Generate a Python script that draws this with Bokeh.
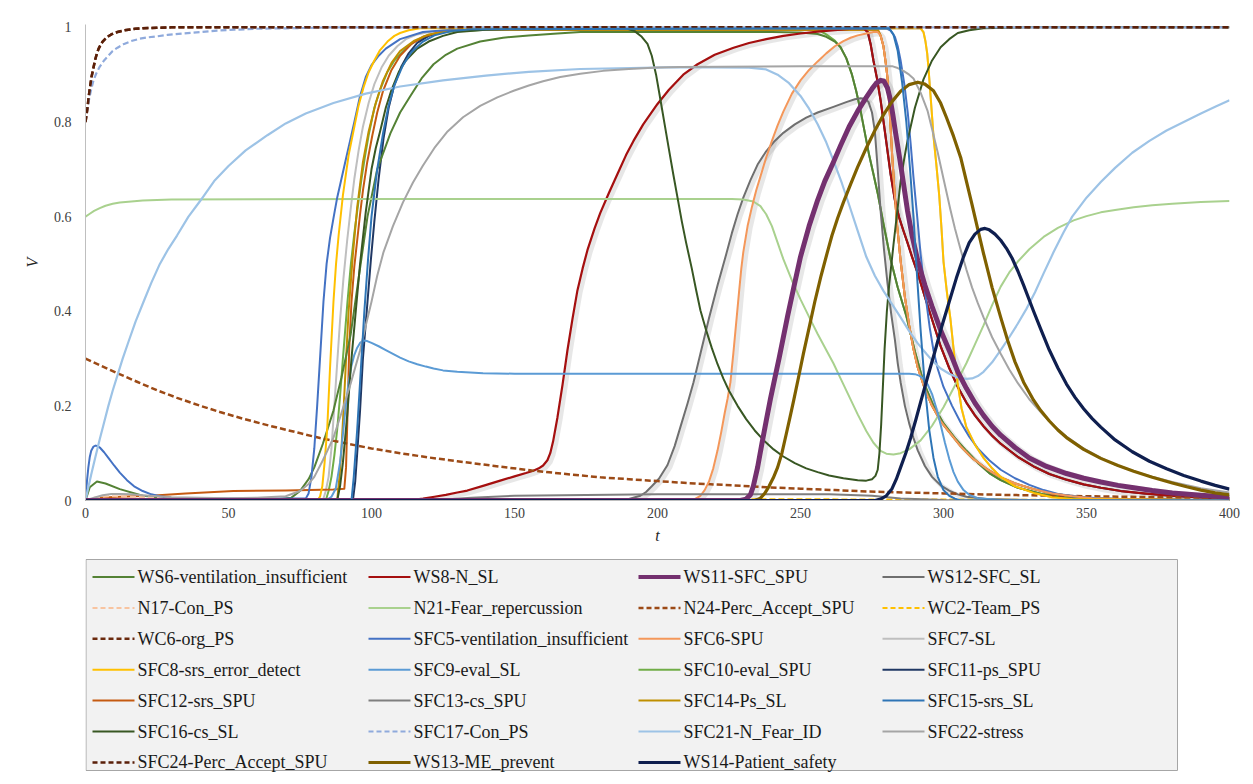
from bokeh.plotting import figure
from bokeh.models import Range1d, FixedTicker
from bokeh.layouts import column
from bokeh.embed import file_html
from bokeh.resources import INLINE
from bokeh.core.properties import value

# ---------------- data (t, V) ----------------
X_TICKS = [0, 50, 100, 150, 200, 250, 300, 350, 400]
Y_TICKS = [0, 0.2, 0.4, 0.6, 0.8, 1]
Y_TICK_LABELS = ["0", "0.2", "0.4", "0.6", "0.8", "1"]

WS6_pts = [(0,0),(1.5,0.028),(4,0.04),(7,0.036),(12,0.024),(20,0.01),(30,0.004),(50,0.002),(68,0.003),(72,0.006),(75,0.02),(78,0.045),(80,0.07),(83,0.12),(86.7,0.19),(89.5,0.26),(92.7,0.35),(95.5,0.47),(98.6,0.6),(102,0.7),(106.6,0.776),(110,0.82),(113.6,0.855),(117.5,0.892),(121.7,0.922),(126,0.942),(130,0.955),(138,0.97),(146,0.978),(155,0.983),(165,0.987),(173,0.99),(200,0.99),(240,0.99),(250,0.989),(256,0.986),(259,0.98),(262,0.97),(264,0.958),(266,0.935),(268,0.9),(269.5,0.865),(271,0.824),(272.5,0.777),(274,0.73),(275.5,0.69),(277,0.649),(279,0.585),(281.5,0.51),(284,0.45),(287,0.39),(290,0.315),(293,0.25),(296.5,0.2),(300,0.163),(304,0.132),(308,0.105),(312,0.08),(316,0.058),(320,0.043),(326,0.027),(335,0.013),(342,0.007),(350,0.004),(400,0)]
WS8_pts = [(0,0),(110,0),(114,0.001),(118,0.004),(122,0.008),(126,0.012),(130,0.017),(133.5,0.021),(139,0.031),(145,0.042),(150,0.051),(154,0.058),(156.6,0.063),(158.5,0.068),(160,0.074),(161.5,0.085),(162.5,0.1),(163.5,0.125),(165,0.175),(166.8,0.245),(168.5,0.317),(170.3,0.385),(172,0.444),(173.8,0.49),(175.5,0.529),(178,0.575),(180,0.608),(183,0.65),(186,0.69),(189,0.73),(191.6,0.76),(195,0.795),(200,0.838),(204,0.868),(209,0.9),(214,0.922),(220,0.942),(226.6,0.957),(232,0.967),(238,0.975),(244,0.982),(250,0.987),(256,0.991),(262,0.994),(268,0.997),(272,0.998),(273.5,0.99),(274.5,0.965),(275.5,0.93),(276.8,0.89),(278,0.846),(279.5,0.78),(281.5,0.69),(283,0.635),(284.5,0.598),(286,0.57),(287.4,0.545),(289,0.515),(291,0.48),(293.5,0.43),(296.5,0.373),(299,0.326),(302,0.28),(305,0.24),(308,0.207),(311,0.18),(314,0.157),(317,0.137),(320,0.12),(326,0.092),(331.5,0.072),(337,0.056),(343,0.044),(349,0.034),(355,0.027),(362,0.02),(370,0.015),(378,0.011),(385,0.008),(392,0.006),(400,0.005)]
WS11_pts = [(0,0),(229,0),(231,0.003),(232.5,0.012),(233.5,0.03),(235,0.07),(236.5,0.12),(238,0.168),(239.5,0.215),(241,0.258),(242.5,0.3),(244,0.345),(245.5,0.39),(248,0.46),(250,0.515),(253,0.58),(256,0.635),(258.5,0.675),(261.5,0.715),(264,0.75),(267,0.79),(270,0.823),(273,0.852),(275,0.87),(276.5,0.882),(278,0.888),(279.2,0.886),(280.4,0.872),(281.3,0.85),(282.3,0.815),(283.3,0.775),(284.5,0.73),(286,0.67),(287.4,0.613),(289,0.56),(291,0.507),(293.5,0.455),(296,0.41),(299,0.36),(302.5,0.31),(305,0.272),(308,0.237),(311,0.206),(314,0.18),(317,0.157),(320,0.138),(325,0.112),(330,0.09),(336,0.072),(343,0.057),(349,0.047),(355,0.039),(361,0.032),(366.5,0.027),(373,0.021),(380,0.016),(390,0.011),(400,0.007)]
WS12_pts = [(0,0),(185,0),(190,0.003),(194,0.01),(196,0.018),(198,0.03),(200.5,0.046),(203.5,0.075),(206,0.115),(208,0.155),(210.5,0.205),(212.6,0.25),(215,0.31),(218,0.385),(221,0.455),(224,0.52),(226,0.565),(228,0.605),(230,0.64),(232.5,0.677),(235,0.71),(238,0.738),(241,0.76),(244,0.777),(248,0.795),(252,0.809),(256,0.82),(261.5,0.832),(266,0.842),(269,0.848),(271,0.85),(272.5,0.849),(273.8,0.842),(275,0.82),(276,0.78),(277,0.7),(278,0.613),(279.2,0.53),(280.4,0.46),(281.7,0.395),(283,0.34),(284,0.29),(285,0.25),(286.5,0.2),(288,0.163),(289.5,0.132),(291,0.106),(293.5,0.073),(296,0.05),(299,0.032),(302,0.021),(305,0.013),(308,0.008),(315,0.003),(330,0.001),(400,0)]
N17_pts = [(0,0),(3,0.006),(8,0.009),(15,0.008),(25,0.006),(40,0.004),(80,0.002),(150,0.001),(400,0)]
N21_pts = [(0,0.6),(1.5,0.606),(3,0.612),(5,0.618),(7,0.623),(9.5,0.627),(12,0.63),(16,0.632),(20,0.634),(30,0.636),(100,0.637),(226,0.637),(230,0.636),(233.5,0.632),(236,0.622),(238,0.605),(240,0.58),(242,0.545),(244,0.51),(247,0.465),(250,0.425),(253,0.388),(256,0.352),(259,0.318),(261.5,0.29),(264,0.258),(267,0.22),(270,0.182),(273,0.147),(275.5,0.122),(278,0.105),(280,0.099),(282.5,0.097),(285,0.1),(288,0.108),(292,0.127),(296,0.158),(300,0.197),(304,0.243),(308,0.29),(311,0.33),(314,0.37),(317,0.413),(320,0.452),(323,0.482),(326,0.505),(330,0.531),(335,0.557),(340,0.576),(345.5,0.592),(350,0.601),(355,0.609),(360,0.614),(366.5,0.62),(373,0.624),(380,0.627),(390,0.631),(400,0.633)]
N24_pts = [(0,0.3),(5,0.286),(11.2,0.269),(18,0.251),(25,0.233),(32,0.217),(40.2,0.2),(47,0.187),(55,0.173),(65,0.157),(75.2,0.142),(82,0.132),(90,0.122),(100,0.11),(110,0.1),(120,0.091),(130,0.083),(143,0.073),(156.6,0.063),(168,0.056),(180,0.049),(190,0.045),(200,0.041),(213,0.036),(226.6,0.032),(238,0.028),(250,0.025),(262,0.022),(273,0.019),(286,0.017),(300,0.015),(320,0.012),(335,0.0105),(350,0.009),(375,0.007),(400,0.0055)]
WC2_pts = [(0,0),(5,0.003),(100,0.003),(200,0.003),(300,0.002),(400,0.001)]
WC6_pts = [(0,0.8),(0.35,0.815),(0.7,0.83),(1.1,0.852),(1.5,0.87),(2.1,0.895),(2.8,0.915),(3.4,0.932),(4,0.945),(4.6,0.955),(5.2,0.962),(6,0.97),(7,0.976),(8,0.981),(9,0.985),(10,0.988),(11.2,0.99),(13,0.993),(15,0.995),(17.5,0.997),(20,0.998),(25,0.999),(30,1.0),(400,1.0)]
SFC5_pts = [(0,0),(0.5,0.04),(1,0.07),(1.5,0.092),(2,0.105),(2.8,0.114),(3.5,0.116),(4.2,0.115),(5,0.112),(6.5,0.102),(8,0.09),(10,0.074),(12,0.059),(14.5,0.043),(17,0.03),(20,0.02),(23,0.013),(26,0.009),(30,0.006),(40,0.004),(77,0.004),(78,0.015),(79,0.05),(80,0.11),(81,0.2),(82.2,0.32),(83.2,0.42),(84.3,0.5),(85.5,0.555),(86.8,0.6),(88,0.64),(89.5,0.68),(91,0.72),(92.5,0.76),(94,0.8),(96,0.855),(98,0.895),(100,0.92),(102.5,0.94),(105,0.955),(110,0.975),(118,0.99),(130,0.996),(280,0.998),(281.5,0.993),(283,0.98),(284,0.96),(285,0.93),(286.3,0.88),(287.5,0.82),(288.5,0.755),(289.5,0.683),(290.8,0.6),(292,0.52),(293,0.465),(294,0.42),(295.2,0.365),(296.5,0.317),(298,0.278),(300,0.24),(303,0.2),(306,0.165),(309,0.135),(312,0.11),(316,0.085),(320,0.065),(325,0.047),(330,0.033),(335,0.022),(340,0.014),(347,0.008),(355,0.004),(370,0.001),(400,0)]
SFC6_pts = [(0,0),(211,0),(213,0.003),(215,0.01),(216.5,0.022),(218,0.04),(219.5,0.068),(221,0.106),(222.3,0.145),(223.5,0.185),(224.5,0.215),(225.5,0.25),(226.5,0.31),(227.5,0.375),(228.5,0.44),(229.3,0.49),(230,0.525),(231.5,0.58),(233,0.62),(234.5,0.655),(236,0.685),(238,0.725),(240,0.76),(242,0.793),(244,0.822),(247,0.86),(250,0.888),(253,0.91),(256,0.928),(259,0.945),(262,0.96),(265,0.971),(267.5,0.978),(270,0.983),(273,0.987),(275.5,0.99),(277,0.99),(278,0.983),(279,0.96),(279.8,0.925),(280.4,0.894),(281.2,0.82),(282,0.735),(282.8,0.66),(283.8,0.58),(285,0.507),(286.5,0.43),(288,0.37),(289.5,0.32),(291,0.281),(293.5,0.235),(296,0.2),(299,0.168),(302.4,0.142),(306,0.115),(310,0.09),(315,0.067),(320,0.049),(325,0.036),(331.5,0.024),(338,0.015),(345,0.009),(352,0.005),(360,0.003),(400,0)]
SFC7_pts = [(0,0),(83,0),(84,0.02),(85,0.05),(86,0.11),(87,0.2),(88,0.29),(89,0.38),(90.2,0.47),(91.5,0.55),(92.8,0.62),(94,0.68),(95.5,0.74),(97,0.79),(99,0.84),(101,0.88),(103.5,0.915),(106,0.94),(109,0.96),(112,0.975),(116,0.985),(120,0.99),(135,0.997),(292,0.998),(293,0.99),(293.7,0.97),(294.3,0.945),(294.8,0.91),(295.6,0.845),(296.5,0.77),(297.5,0.71),(298.5,0.645),(299.3,0.575),(300,0.505),(301.2,0.44),(302.4,0.385),(303.7,0.31),(304.9,0.25),(306.3,0.195),(308,0.155),(311,0.118),(314,0.09),(317,0.068),(320,0.05),(325,0.03),(331.5,0.016),(338,0.007),(345,0.003),(400,0)]
SFC8_pts = [(0,0),(81,0),(82,0.008),(82.8,0.03),(83.6,0.08),(84.5,0.15),(85.5,0.28),(86.7,0.42),(87.6,0.5),(88.5,0.56),(90,0.645),(92,0.73),(94,0.79),(95.5,0.835),(97.2,0.873),(99,0.905),(101,0.93),(103,0.952),(105.6,0.97),(108,0.982),(110,0.988),(113,0.994),(117,0.998),(292,0.998),(293,0.99),(293.7,0.97),(294.3,0.945),(294.8,0.91),(295.6,0.845),(296.5,0.77),(297.5,0.71),(298.5,0.645),(299.3,0.575),(300,0.505),(301.2,0.44),(302.4,0.385),(303.7,0.31),(304.9,0.25),(306.3,0.195),(308,0.155),(311,0.118),(314,0.09),(317,0.068),(320,0.05),(325,0.03),(331.5,0.016),(338,0.007),(345,0.003),(400,0)]
SFC9_pts = [(0,0),(84,0),(86,0.008),(87.5,0.025),(89,0.08),(90,0.14),(91,0.2),(92,0.25),(93,0.285),(94,0.308),(95,0.323),(96,0.333),(97.2,0.338),(98.5,0.337),(100,0.333),(102.5,0.326),(105,0.318),(107.5,0.31),(110,0.302),(113,0.294),(116,0.288),(119,0.283),(121.7,0.279),(125,0.275),(130,0.272),(139,0.269),(150,0.268),(288,0.268),(290,0.267),(291.5,0.264),(293,0.257),(294.5,0.245),(296,0.225),(297.5,0.195),(299,0.16),(300.5,0.122),(302,0.088),(303.5,0.06),(305,0.04),(307,0.022),(309,0.012),(312,0.005),(320,0.001),(400,0)]
SFC10_pts = [(0,0),(84,0),(85,0.02),(86,0.05),(87,0.095),(88,0.15),(89,0.22),(90,0.3),(91.6,0.42),(92.8,0.5),(94,0.565),(95.3,0.625),(96.5,0.68),(97.8,0.73),(99,0.772),(101,0.83),(103,0.868),(105.5,0.905),(108,0.93),(111.5,0.953),(115,0.97),(120,0.982),(125,0.99),(140,0.995),(256,0.995),(259,0.985),(262,0.972),(264,0.958),(266,0.935),(268,0.9),(269.5,0.865),(271,0.824),(272.5,0.777),(274,0.73),(275.5,0.69),(277,0.649),(279,0.585),(281.5,0.51),(284,0.45),(287,0.39),(290,0.315),(293,0.25),(296.5,0.2),(300,0.163),(304,0.132),(308,0.105),(312,0.08),(316,0.058),(320,0.043),(326,0.027),(335,0.013),(342,0.007),(350,0.004),(400,0)]
SFC11_pts = [(0,0),(93.5,0),(94.3,0.04),(95,0.1),(96,0.19),(97,0.3),(98.6,0.42),(99.8,0.51),(101,0.59),(102.5,0.68),(104.2,0.765),(106,0.83),(108,0.878),(110.5,0.918),(113,0.945),(116,0.967),(120,0.982),(125,0.991),(130,0.995),(272,0.998),(273.5,0.99),(274.5,0.965),(275.5,0.93),(276.8,0.89),(278,0.846),(279.5,0.78),(281.5,0.69),(283,0.635),(284.5,0.598),(286,0.57),(287.4,0.545),(289,0.515),(291,0.48),(293.5,0.43),(296.5,0.373),(299,0.326),(302,0.28),(305,0.24),(308,0.207),(311,0.18),(314,0.157),(317,0.137),(320,0.12),(326,0.092),(331.5,0.072),(337,0.056),(343,0.044),(349,0.034),(355,0.027),(362,0.02),(370,0.015),(378,0.011),(385,0.008),(392,0.006),(400,0.005)]
SFC12_pts = [(0,0),(5,0.006),(12,0.008),(22.7,0.01),(35,0.015),(51.7,0.02),(70,0.021),(86.7,0.023),(90.5,0.025),(91.1,0.07),(91.6,0.18),(92.2,0.32),(93,0.42),(94,0.495),(95,0.55),(96,0.605),(97,0.655),(98.5,0.715),(100.3,0.772),(102,0.82),(104,0.865),(107,0.91),(110,0.94),(114,0.965),(118,0.98),(124,0.99),(130,0.995),(277,0.995),(278,0.983),(279,0.96),(279.8,0.925),(280.4,0.894),(281.2,0.82),(282,0.735),(282.8,0.66),(283.8,0.58),(285,0.507),(286.5,0.43),(288,0.37),(289.5,0.32),(291,0.281),(293.5,0.235),(296,0.2),(299,0.168),(302.4,0.142),(306,0.115),(310,0.09),(315,0.067),(320,0.049),(325,0.036),(331.5,0.024),(338,0.015),(345,0.009),(352,0.005),(360,0.003),(400,0)]
SFC13_pts = [(0,0),(120,0),(135,0.006),(150,0.01),(200,0.013),(260,0.013),(275,0.01),(285,0.004),(300,0.001),(400,0)]
SFC14_pts = [(0,0),(88,0),(88.8,0.05),(89.5,0.11),(90.3,0.2),(91.2,0.31),(92,0.4),(93.5,0.52),(95,0.62),(97,0.715),(99,0.78),(101.5,0.84),(104,0.887),(107,0.925),(110,0.95),(115,0.972),(120,0.985),(127,0.992),(135,0.995),(277,0.995),(278,0.983),(279,0.96),(279.8,0.925),(280.4,0.894),(281.2,0.82),(282,0.735),(282.8,0.66),(283.8,0.58),(285,0.507),(286.5,0.43),(288,0.37),(289.5,0.32),(291,0.281),(293.5,0.235),(296,0.2),(299,0.168),(302.4,0.142),(306,0.115),(310,0.09),(315,0.067),(320,0.049),(325,0.036),(331.5,0.024),(338,0.015),(345,0.009),(352,0.005),(360,0.003),(400,0)]
SFC15_pts = [(0,0),(93,0),(93.8,0.05),(95,0.15),(96.2,0.27),(97.5,0.4),(98.8,0.51),(100,0.6),(102,0.7),(104,0.775),(106,0.835),(108,0.878),(111,0.92),(114,0.948),(118,0.97),(122,0.983),(128,0.992),(135,0.996),(281,0.998),(282.5,0.985),(284,0.95),(285.5,0.885),(287,0.8),(288.3,0.7),(289.5,0.6),(290.8,0.47),(292,0.36),(293.5,0.24),(295,0.15),(296.5,0.09),(298,0.05),(300,0.022),(302,0.01),(304,0.004),(306,0),(400,0)]
SFC16_pts = [(0,0),(88,0),(89,0.03),(90,0.08),(91.5,0.18),(93,0.3),(94.5,0.4),(96,0.5),(98,0.61),(100,0.7),(101.5,0.745),(103,0.78),(105,0.83),(107,0.868),(109.5,0.905),(112,0.93),(116,0.955),(120,0.97),(125,0.982),(130,0.99),(140,0.995),(150,0.997),(185,1.0),(189,0.998),(192,0.992),(194.5,0.98),(196.5,0.965),(198,0.94),(199.5,0.9),(201,0.848),(202.5,0.795),(204,0.742),(205.5,0.69),(207,0.64),(208.5,0.59),(210,0.545),(212,0.49),(213.5,0.445),(215,0.402),(217,0.36),(219,0.322),(221,0.288),(223,0.258),(225,0.232),(228,0.2),(231,0.172),(234,0.148),(237,0.128),(240.6,0.108),(244,0.093),(248,0.079),(252,0.068),(256,0.06),(260,0.053),(265,0.047),(270,0.043),(273,0.042),(275,0.045),(276.2,0.052),(277,0.065),(277.6,0.1),(278.2,0.16),(278.8,0.24),(279.4,0.32),(280.2,0.4),(281,0.455),(282.5,0.54),(284,0.62),(285,0.675),(286.2,0.72),(287.4,0.76),(290,0.83),(293,0.89),(296,0.93),(299,0.958),(302,0.975),(305,0.988),(309,0.994),(314,0.998),(330,1.0),(400,1.0)]
SFC17_pts = [(0,0.8),(0.5,0.822),(1,0.84),(1.8,0.864),(2.8,0.888),(3.8,0.903),(5,0.917),(6.5,0.93),(8,0.94),(9.5,0.95),(11.2,0.957),(13.5,0.965),(16,0.971),(19,0.976),(22,0.979),(25,0.981),(28.7,0.984),(34,0.987),(40,0.99),(46,0.993),(52,0.995),(60,0.997),(70,0.998),(87,1.0),(400,1.0)]
SFC21_pts = [(0,0),(1,0.028),(2,0.055),(3.5,0.093),(5,0.13),(6.5,0.165),(8,0.2),(9.5,0.232),(11.2,0.265),(13,0.3),(15,0.335),(17.5,0.378),(20.3,0.42),(23,0.46),(26,0.5),(29,0.532),(32,0.56),(36,0.6),(40.2,0.634),(45,0.675),(50,0.707),(56,0.74),(63.6,0.772),(70,0.797),(77,0.818),(86.7,0.84),(98,0.86),(110,0.875),(125,0.888),(140,0.898),(155,0.906),(173,0.912),(208,0.916),(232,0.915),(238,0.911),(242,0.9),(246,0.882),(250,0.855),(253,0.828),(256,0.795),(259,0.757),(261.5,0.719),(264.5,0.67),(267,0.625),(270,0.57),(273,0.515),(276,0.475),(279,0.443),(282,0.415),(285,0.387),(288,0.358),(291,0.332),(294,0.31),(296.5,0.293),(299,0.279),(302,0.268),(305,0.26),(308,0.257),(310,0.258),(312,0.263),(314,0.272),(317,0.292),(320,0.318),(323,0.345),(326,0.374),(329,0.405),(332,0.44),(335,0.48),(338.5,0.525),(342,0.567),(345,0.6),(350,0.64),(355,0.673),(360,0.703),(366,0.735),(372,0.76),(378,0.782),(384,0.8),(390,0.818),(395,0.832),(400,0.846)]
SFC22_pts = [(0,0),(3,0.006),(6,0.011),(9,0.0135),(12,0.014),(16,0.013),(20,0.011),(25,0.009),(30,0.007),(40,0.006),(50,0.005),(60,0.006),(70,0.009),(75,0.02),(78,0.035),(80,0.05),(83,0.085),(86.7,0.133),(89.5,0.185),(92.7,0.247),(96,0.317),(98,0.37),(100,0.42),(102,0.475),(104.2,0.525),(107.5,0.58),(111,0.63),(114.5,0.672),(118,0.708),(122,0.745),(126.6,0.78),(132,0.81),(138,0.834),(144,0.852),(149.7,0.866),(155,0.877),(160,0.886),(166,0.895),(173,0.902),(181,0.908),(190,0.912),(200,0.915),(208,0.916),(250,0.918),(282,0.918),(284,0.914),(286,0.908),(288,0.9),(289.5,0.892),(292,0.862),(294.4,0.824),(296,0.785),(298,0.735),(300,0.68),(302.4,0.615),(304,0.575),(306,0.53),(308,0.488),(310,0.45),(312,0.417),(314,0.387),(317,0.345),(320,0.31),(323,0.277),(326,0.248),(330,0.214),(335,0.18),(339,0.156),(343,0.135),(349,0.11),(355,0.09),(360,0.076),(366.5,0.062),(373,0.05),(380,0.039),(390,0.026),(400,0.017)]
SFC24_pts = [(0,0.8),(0.35,0.815),(0.7,0.83),(1.1,0.852),(1.5,0.87),(2.1,0.895),(2.8,0.915),(3.4,0.932),(4,0.945),(4.6,0.955),(5.2,0.962),(6,0.97),(7,0.976),(8,0.981),(9,0.985),(10,0.988),(11.2,0.99),(13,0.993),(15,0.995),(17.5,0.997),(20,0.998),(25,0.999),(30,1.0),(400,1.0)]
WS13_pts = [(0,0),(234,0),(236,0.005),(237.5,0.015),(239,0.03),(240.5,0.048),(242,0.07),(243.5,0.1),(245,0.14),(246.3,0.175),(247.6,0.211),(249.3,0.26),(251,0.31),(253,0.365),(255,0.42),(257.2,0.475),(259.4,0.525),(261,0.56),(263,0.597),(265,0.63),(267.5,0.668),(270,0.705),(273,0.745),(276,0.782),(279,0.815),(282,0.843),(285,0.865),(288,0.879),(291,0.884),(293.5,0.88),(296.5,0.866),(299,0.84),(301,0.81),(303.5,0.77),(306,0.725),(308,0.675),(310,0.625),(312,0.573),(314,0.522),(317,0.45),(320,0.387),(322.5,0.337),(325,0.293),(328,0.25),(331.5,0.212),(334,0.19),(337,0.168),(340,0.149),(343,0.133),(349,0.108),(355,0.089),(361,0.074),(366.5,0.062),(373,0.049),(380,0.037),(385,0.029),(390,0.022),(395,0.016),(400,0.012)]
WS14_pts = [(0,0),(276,0),(278,0.003),(280,0.01),(282,0.025),(283.5,0.045),(285,0.07),(286.8,0.1),(288.5,0.132),(290.3,0.17),(292,0.208),(294.5,0.262),(297,0.315),(299.5,0.37),(302,0.42),(304.5,0.47),(307,0.515),(309,0.545),(311,0.563),(313,0.573),(314.5,0.575),(316,0.572),(318,0.563),(320,0.55),(322,0.533),(324,0.512),(326,0.485),(328,0.455),(331.5,0.4),(334,0.362),(337,0.318),(340,0.28),(343,0.246),(346,0.218),(349,0.194),(352,0.173),(355,0.155),(360,0.128),(366,0.103),(372,0.083),(378,0.067),(384,0.053),(390,0.041),(395,0.032),(400,0.024)]

LABELS = ["WS6-ventilation_insufficient", "WS8-N_SL", "WS11-SFC_SPU", "WS12-SFC_SL",
          "N17-Con_PS", "N21-Fear_repercussion", "N24-Perc_Accept_SPU", "WC2-Team_PS",
          "WC6-org_PS", "SFC5-ventilation_insufficient", "SFC6-SPU", "SFC7-SL",
          "SFC8-srs_error_detect", "SFC9-eval_SL", "SFC10-eval_SPU", "SFC11-ps_SPU",
          "SFC12-srs_SPU", "SFC13-cs_SPU", "SFC14-Ps_SL", "SFC15-srs_SL",
          "SFC16-cs_SL", "SFC17-Con_PS", "SFC21-N_Fear_ID", "SFC22-stress",
          "SFC24-Perc_Accept_SPU", "WS13-ME_prevent", "WS14-Patient_safety"]
POINTS = [WS6_pts, WS8_pts, WS11_pts, WS12_pts, N17_pts, N21_pts, N24_pts, WC2_pts,
          WC6_pts, SFC5_pts, SFC6_pts, SFC7_pts, SFC8_pts, SFC9_pts, SFC10_pts, SFC11_pts,
          SFC12_pts, SFC13_pts, SFC14_pts, SFC15_pts, SFC16_pts, SFC17_pts, SFC21_pts,
          SFC22_pts, SFC24_pts, WS13_pts, WS14_pts]

# ---------------- styles ----------------
COLORS = ["#548235", "#a50f0f", "#74306f", "#6f6f6f",
          "#f8c4a0", "#a9d18e", "#9c4a16", "#ffc000",
          "#6b2a0e", "#4472c4", "#f4975a", "#bfbfbf",
          "#ffc000", "#5b9bd5", "#70ad47", "#203864",
          "#c55a11", "#7f7f7f", "#bf8f00", "#2e75b6",
          "#385723", "#8faadc", "#9dc3e6", "#a5a5a5",
          "#5a1f08", "#7f6000", "#0f1f4f"]
WIDTHS = [2, 2.2, 5, 2, 2, 2, 2.5, 2, 2.5, 2, 2, 2, 2, 2, 2, 2, 2, 2, 2, 2, 2, 2.2, 2.2, 2, 2.5, 3.2, 3.2]
DASHED = {"N17-Con_PS", "N24-Perc_Accept_SPU", "WC2-Team_PS", "WC6-org_PS",
          "SFC17-Con_PS", "SFC24-Perc_Accept_SPU"}
SHADOWED = {"WS8-N_SL", "WS11-SFC_SPU", "SFC6-SPU", "WS12-SFC_SL"}
DRAW_ORDER = ["SFC7-SL", "SFC10-eval_SPU", "SFC11-ps_SPU", "SFC12-srs_SPU", "SFC14-Ps_SL",
              "WS6-ventilation_insufficient", "WS8-N_SL", "WS12-SFC_SL", "N17-Con_PS",
              "N21-Fear_repercussion", "N24-Perc_Accept_SPU", "WC2-Team_PS", "WC6-org_PS",
              "SFC5-ventilation_insufficient", "SFC6-SPU", "SFC8-srs_error_detect",
              "SFC9-eval_SL", "SFC13-cs_SPU", "SFC16-cs_SL", "SFC17-Con_PS",
              "SFC21-N_Fear_ID", "SFC22-stress", "SFC24-Perc_Accept_SPU", "WS11-SFC_SPU",
              "WS13-ME_prevent", "SFC15-srs_SL", "WS14-Patient_safety"]

FONT = "'Liberation Serif', 'Times New Roman', serif"

# ---------------- main plot ----------------
BL, BR = 85, 16
p = figure(width=1245, height=552, x_range=Range1d(0, 400), y_range=Range1d(0, 1.006),
           output_backend="svg", toolbar_location=None,
           min_border_left=BL, min_border_right=BR, min_border_top=24, min_border_bottom=52,
           background_fill_color="white", border_fill_color="white")
p.outline_line_color = None
p.xgrid.visible = False
p.ygrid.visible = False

# soft drop shadows (as in the original chart) for a few series
for name in DRAW_ORDER:
    if name not in SHADOWED:
        continue
    i = LABELS.index(name)
    xs = [a + 0.9 for a, b in POINTS[i]]
    ys = [b - 0.004 for a, b in POINTS[i]]
    p.line(xs, ys, line_color="#7a7a7a", line_alpha=0.18, line_width=WIDTHS[i] + 3, line_join="round")

for name in DRAW_ORDER:
    i = LABELS.index(name)
    pts = POINTS[i]
    xs = [a for a, b in pts]
    ys = [b for a, b in pts]
    p.line(xs, ys, line_color=COLORS[i], line_width=WIDTHS[i],
           line_dash=("6 3" if name in DASHED else "solid"), line_join="round")

p.xaxis.ticker = FixedTicker(ticks=X_TICKS)
p.yaxis.ticker = FixedTicker(ticks=Y_TICKS)
p.yaxis.major_label_overrides = {t: l for t, l in zip(Y_TICKS, Y_TICK_LABELS)}
for ax in (p.xaxis[0], p.yaxis[0]):
    ax.major_tick_out = 0
    ax.major_tick_in = 0
    ax.minor_tick_out = 0
    ax.minor_tick_in = 0
    ax.axis_line_color = "#bfbfbf"
    ax.axis_line_width = 1
    ax.major_label_text_font = FONT
    ax.major_label_text_font_size = "14px"
    ax.major_label_text_color = "#404040"
    ax.axis_label_text_font = FONT
    ax.axis_label_text_font_size = "16px"
    ax.axis_label_text_font_style = "italic"
    ax.axis_label_text_color = "#262626"
p.xaxis.axis_label = "t"
p.yaxis.axis_label = "V"
p.xaxis.major_label_standoff = 7
p.yaxis.major_label_standoff = 14
p.xaxis.axis_label_standoff = 6
p.yaxis.axis_label_standoff = 10

# ---------------- legend (own panel, same frame alignment) ----------------
lg = figure(width=1245, height=224, x_range=Range1d(BL, 1245 - BR), y_range=Range1d(776, 552),
            output_backend="svg", toolbar_location=None,
            min_border_left=BL, min_border_right=BR, min_border_top=0, min_border_bottom=0,
            x_axis_location=None, y_axis_location=None,
            background_fill_color="white", border_fill_color="white")
lg.outline_line_color = None
lg.xgrid.visible = False
lg.ygrid.visible = False
lg.quad(left=85.5, right=1177, top=559, bottom=770, fill_color="#f2f2f2", line_color="#a6a6a6", line_width=1)

COL_X = [92, 368, 638, 882]
ROW_Y0, ROW_DY = 576.5, 30.9
tx, ty = [], []
for i, name in enumerate(LABELS):
    r, c = divmod(i, 4)
    x0 = COL_X[c]
    y = ROW_Y0 + r * ROW_DY
    lg.segment(x0=[x0], y0=[y], x1=[x0 + 42], y1=[y], line_color=COLORS[i],
               line_width=(4 if name == "WS11-SFC_SPU" else min(WIDTHS[i], 3)),
               line_dash=("5 3" if name in DASHED else "solid"))
    tx.append(x0 + 45)
    ty.append(y)
lg.text(x=tx, y=ty, text=LABELS, text_font=value(FONT), text_font_size=value("18px"),
        text_baseline="middle", text_align="left", text_color="#1a1a1a")

layout = column(p, lg)
open("out.html", "w").write(file_html(layout, INLINE))
